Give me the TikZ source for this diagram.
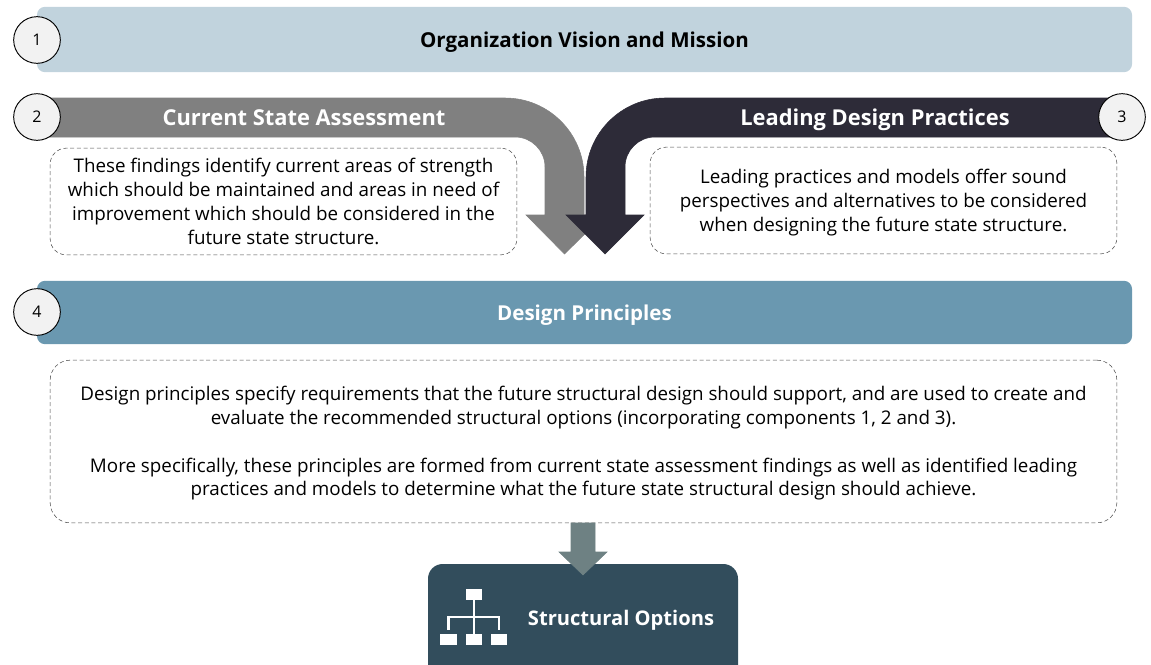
\documentclass[tikz,border=0pt]{standalone}
\usepackage{fontspec}
\setmainfont{Open Sans}
\usepackage{tikz}
\usetikzlibrary{positioning}
\definecolor{visionblue}{HTML}{C1D3DD}
\definecolor{principleblue}{HTML}{6A98B0}
\definecolor{currentgray}{HTML}{808080}
\definecolor{leadingdark}{HTML}{2D2B38}
\definecolor{optionsdark}{HTML}{324D5C}
\definecolor{downgray}{HTML}{6E8183}
\tikzset{
  bar/.style={fill=#1, rounded corners=6pt, minimum width=821.25pt, minimum height=47.5pt, inner sep=0pt, text height=16pt, text depth=4pt, font=\fontsize{15.4}{18}\selectfont\bfseries},
  stepnum/.style={circle, draw=black, fill=white!95!black, line width=0.7pt, minimum size=35pt, inner sep=0pt, font=\fontsize{12}{14}\selectfont},
  note/.style={draw=black!70, densely dashed, line width=0.4pt, rounded corners=12pt, fill=white, inner sep=0pt},
  notetext/.style={align=center, inner sep=0pt, font=\fontsize{14.1}{17.8}\selectfont},
  heading/.style={text=white, text height=13pt, text depth=4pt, inner sep=0pt, font=\fontsize{16.4}{20}\selectfont\bfseries},
  iconbox/.style={fill=white, minimum width=12.5pt, minimum height=8.5pt, inner sep=0pt}
}
\begin{document}
\begin{tikzpicture}[x=0.75pt,y=-0.75pt]
\useasboundingbox (0,0) rectangle (1151,664);

\node[bar=visionblue, minimum height=49pt] (vision) at (584.5,39.5) {Organization Vision and Mission};

% the two bent arrows
\filldraw[currentgray] (37,98) -- (505,98) arc (-90:0:79) -- (584,215) -- (604,215) -- (564.5,254) -- (526,215) -- (545,215) -- (545,167) arc (0:-90:30) -- (37,137) -- cycle;
\filldraw[leadingdark] (1122,98) -- (665,98) arc (-90:-180:79) -- (586,215) -- (566,215) -- (605,254) -- (644,215) -- (625,215) -- (625,167) arc (180:270:30) -- (1122,137) -- cycle;

\node[heading] (current) at (304,119) {Current State Assessment};
\node[heading] (leading) at (875,119) {Leading Design Practices};

\node[note, minimum width=350pt, minimum height=80pt] (currentnote) at (283.5,201.5) {};
\node[notetext] (currenttext) at (283.5,201.5) {These findings identify current areas of strength\\which should be maintained and areas in need of\\improvement which should be considered in the\\future state structure.};
\node[note, minimum width=350pt, minimum height=80pt] (leadingnote) at (883.5,200.5) {};
\node[notetext] (leadingtext) at (883.5,202.5) {Leading practices and models offer sound\\perspectives and alternatives to be considered\\when designing the future state structure.};

\node[bar=principleblue, text=white] (principles) at (584.5,312.5) {Design Principles};

\node[note, rounded corners=15pt, minimum width=800pt, minimum height=122pt] (principlesnote) at (583.5,441.5) {};
\node[notetext] (principlestext) at (583.5,443.5) {Design principles specify requirements that the future structural design should support, and are used to create and\\evaluate the recommended structural options (incorporating components 1, 2 and 3).\\[17.8pt]More specifically, these principles are formed from current state assessment findings as well as identified leading\\practices and models to determine what the future state structural design should achieve.};

\node[fill=optionsdark, rounded corners=11pt, minimum width=232.5pt, minimum height=90pt] (options) at (583,624) {};
\filldraw[downgray] (571,523) -- (595,523) -- (595,552) -- (607,552) -- (583,575) -- (559,552) -- (571,552) -- cycle;

\node[heading, font=\fontsize{15.1}{18}\selectfont\bfseries] (optionstext) at (621,619) {Structural Options};

% chart icon
\node[iconbox] (chart) at (474,594.5) {};
\node[iconbox] (chartl) at (448.5,639.5) {};
\node[iconbox] (chartm) at (474,639.5) {};
\node[iconbox] (chartr) at (499,639.5) {};
\draw[white, line width=2pt] (chart.south) -- (chartm.north);
\draw[white, line width=2pt] ([yshift=3pt]chartl.north) |- (chart |- 0,617) -| ([yshift=3pt]chartr.north);

\node[stepnum] (one) at (37,40) {1};
\node[stepnum] (two) at (37,117) {2};
\node[stepnum] (three) at (1122,117) {3};
\node[stepnum] (four) at (37,312) {4};

\end{tikzpicture}
\end{document}
